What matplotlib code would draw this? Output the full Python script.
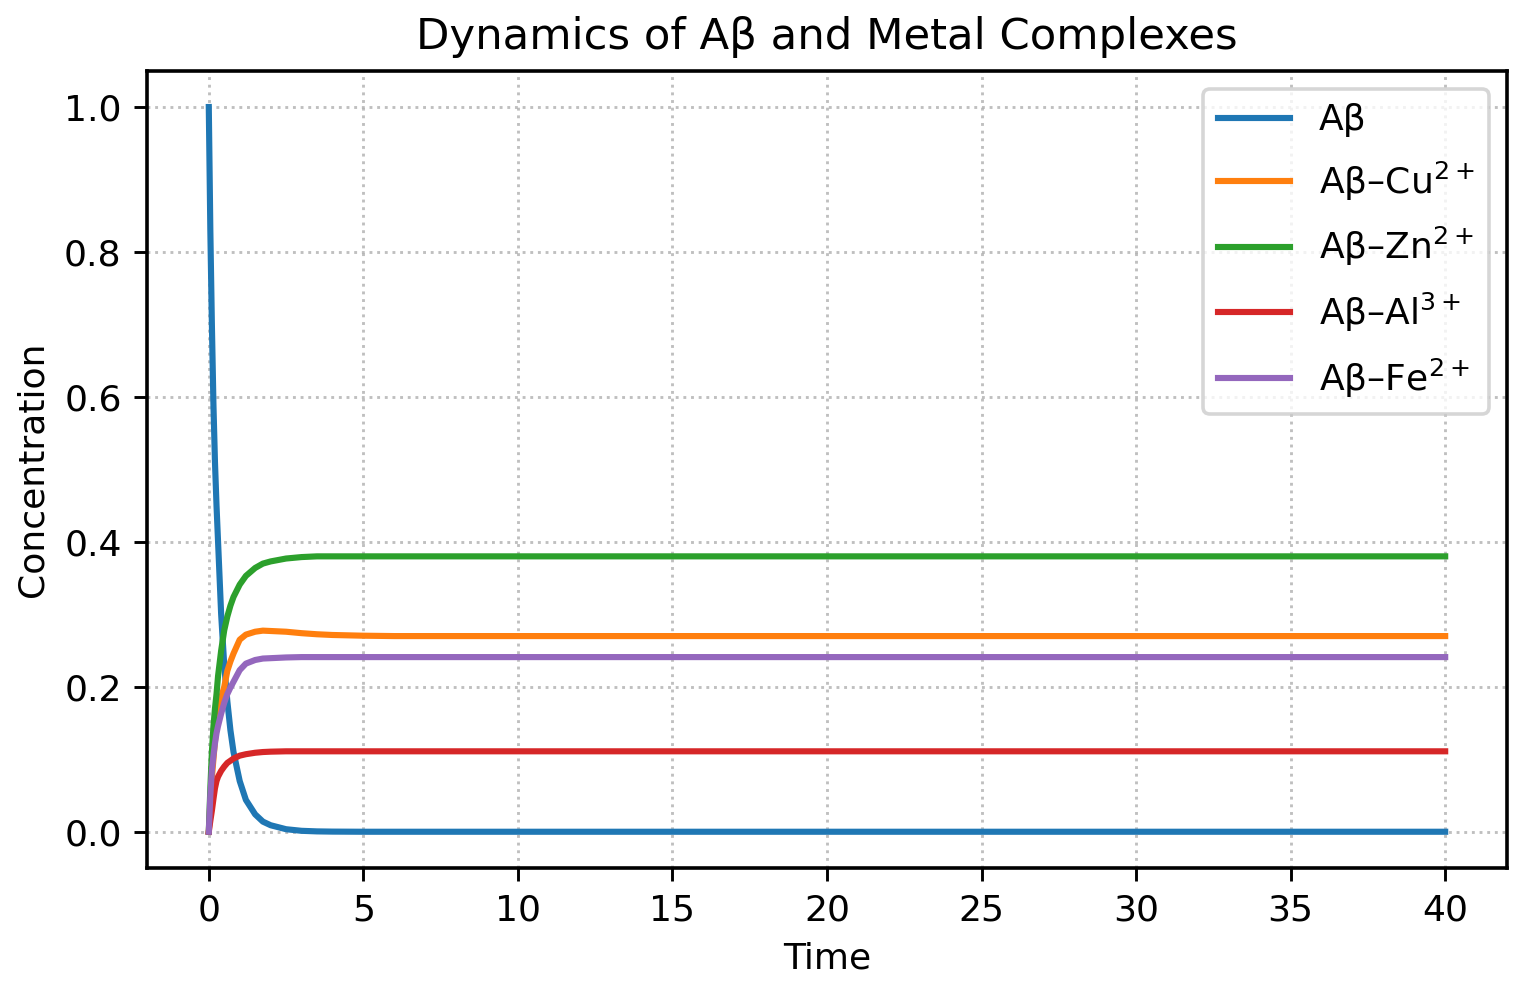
import numpy as np
import matplotlib
matplotlib.use("Agg")
import matplotlib.pyplot as plt

# time points
t = [0, 0.05, 0.1, 0.15, 0.2, 0.25, 0.3, 0.4, 0.5, 0.6, 0.7, 0.8, 1.0, 1.2,
     1.5, 1.75, 2.0, 2.5, 3.0, 3.5, 4.0, 5.0, 6.0, 8.0, 10.0, 20.0, 40.0]

abeta = [1.0, 0.83, 0.70, 0.59, 0.51, 0.45, 0.40, 0.30, 0.23, 0.18, 0.14, 0.11,
         0.07, 0.044, 0.024, 0.014, 0.009, 0.0035, 0.0013, 0.0005, 0.0002,
         0.0, 0.0, 0.0, 0.0, 0.0, 0.0]
cu = [0.0, 0.04, 0.075, 0.10, 0.125, 0.145, 0.163, 0.185, 0.200, 0.222, 0.235,
      0.246, 0.265, 0.272, 0.276, 0.2775, 0.277, 0.276, 0.274, 0.2725, 0.2715,
      0.2705, 0.270, 0.270, 0.270, 0.270, 0.270]
zn = [0.0, 0.06, 0.11, 0.145, 0.17, 0.19, 0.215, 0.25, 0.278, 0.297, 0.312,
      0.324, 0.341, 0.353, 0.364, 0.370, 0.373, 0.377, 0.379, 0.380, 0.380,
      0.380, 0.380, 0.380, 0.380, 0.380, 0.380]
al = [0.0, 0.015, 0.029, 0.045, 0.06, 0.07, 0.076, 0.084, 0.09, 0.095, 0.098,
      0.101, 0.105, 0.107, 0.109, 0.110, 0.1105, 0.111, 0.111, 0.111, 0.111,
      0.111, 0.111, 0.111, 0.111, 0.111, 0.111]
fe = [0.0, 0.05, 0.085, 0.105, 0.122, 0.136, 0.146, 0.163, 0.178, 0.19, 0.199,
      0.207, 0.223, 0.232, 0.237, 0.239, 0.2395, 0.2405, 0.241, 0.241, 0.241,
      0.241, 0.241, 0.241, 0.241, 0.241, 0.241]

labels = ['Aβ', 'Aβ–Cu$^{2+}$', 'Aβ–Zn$^{2+}$', 'Aβ–Al$^{3+}$', 'Aβ–Fe$^{2+}$']

plt.rcParams['axes.linewidth'] = 1.0

fig, ax = plt.subplots(figsize=(1523 / 260, 983 / 260), dpi=260)
fig.subplots_adjust(left=0.0965, right=0.9895, top=0.928, bottom=0.117)

for y, lab in zip([abeta, cu, zn, al, fe], labels):
    ax.plot(t, y, lw=1.7, label=lab)

ax.set_title('Dynamics of Aβ and Metal Complexes')
ax.set_xlabel('Time')
ax.set_ylabel('Concentration')
ax.set_xticks(np.arange(0, 41, 5))
ax.set_yticks(np.arange(0, 1.01, 0.2))
ax.grid(True, linestyle=':', color='#b0b0b0', alpha=0.8)
ax.legend(loc='upper right', labelspacing=0.62)

fig.savefig('out.png', dpi=260)
